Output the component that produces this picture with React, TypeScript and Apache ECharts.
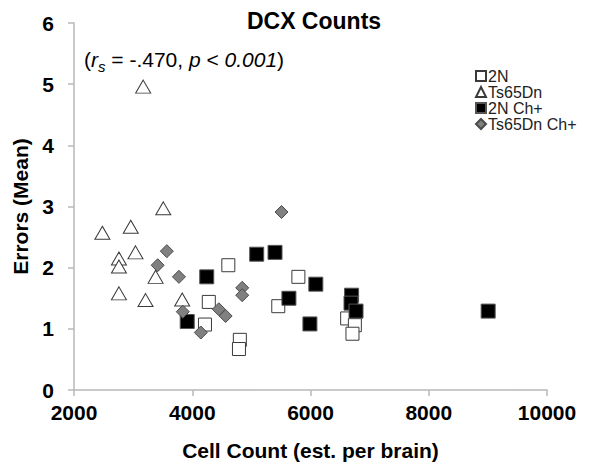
import React, { useEffect, useRef } from "react";
import * as echarts from "echarts";

const FONT = "'Liberation Sans', Arial, sans-serif";

const xTicks = [2000, 4000, 6000, 8000, 10000];
const yTicks = [0, 1, 2, 3, 4, 5, 6];

const seriesNames = ["2N", "Ts65Dn", "2N Ch+", "Ts65Dn Ch+"];

// [cell count, errors]
const data2N: number[][] = [
  [4610, 2.04], [4280, 1.44], [4215, 1.07], [4805, 0.82], [4790, 0.67],
  [5795, 1.85], [5455, 1.37], [6620, 1.17], [6750, 1.06], [6710, 0.92],
];
const dataTs65Dn: number[][] = [
  [2480, 2.57], [2760, 2.15], [2760, 2.02], [2760, 1.58], [2960, 2.67],
  [3040, 2.25], [3170, 4.96], [3210, 1.47], [3380, 1.85], [3510, 2.97], [3830, 1.48],
];
const data2NCh: number[][] = [
  [4245, 1.85], [3915, 1.12], [5090, 2.22], [5400, 2.25], [6090, 1.73],
  [5635, 1.5], [5990, 1.08], [6695, 1.55], [6685, 1.42], [6770, 1.29], [9005, 1.29],
];
const dataTs65DnCh: number[][] = [
  [3570, 2.27], [3415, 2.04], [3775, 1.85], [3840, 1.28], [4145, 0.94],
  [4450, 1.32], [4565, 1.21], [4845, 1.67], [4845, 1.55], [5510, 2.91],
];

export default function App() {
  const ref = useRef<HTMLDivElement>(null);
  useEffect(() => {
    if (!ref.current) return;
    const chart = echarts.init(ref.current, undefined, { renderer: "svg" });
    chart.setOption({
      animation: false,
      backgroundColor: "#fff",
      title: {
        text: "DCX Counts",
        left: 309,
        top: 4,
        textAlign: "center",
        textStyle: { fontFamily: FONT, fontSize: 23, fontWeight: "bold", color: "#000" },
      },
      legend: {
        orient: "vertical",
        left: 475,
        top: 68,
        padding: 0,
        itemGap: 0,
        itemWidth: 10,
        itemHeight: 10,
        data: seriesNames,
        textStyle: { fontFamily: FONT, fontSize: 16, lineHeight: 16, color: "#222", padding: [0, 0, 0, -3] },
      },
      graphic: [
        {
          type: "text",
          left: 84,
          top: 49,
          style: {
            text: "{n|(}{i|r}{s|s}{n| = -.470, }{i|p}{n| < }{i|0.001}{n|)}",
            rich: {
              n: { fontFamily: FONT, fontSize: 21, color: "#000", lineHeight: 28, verticalAlign: "middle" },
              i: { fontFamily: FONT, fontSize: 21, fontStyle: "italic", color: "#000", lineHeight: 28, verticalAlign: "middle" },
              s: { fontFamily: FONT, fontSize: 15, fontStyle: "italic", color: "#000", verticalAlign: "bottom" },
            },
          },
        },
      ],
      grid: { left: 74, right: 43, top: 23, bottom: 81, containLabel: false },
      xAxis: {
        type: "value",
        min: xTicks[0],
        max: xTicks[xTicks.length - 1],
        interval: 2000,
        name: "Cell Count (est. per brain)",
        nameLocation: "middle",
        nameGap: 50,
        nameTextStyle: { fontFamily: FONT, fontSize: 21, fontWeight: "bold", color: "#000" },
        axisLine: { show: true, lineStyle: { color: "#b8b8b8", width: 1.5 } },
        axisTick: { show: true, length: 6, lineStyle: { color: "#b8b8b8", width: 1.5 } },
        axisLabel: {
          fontFamily: FONT, fontSize: 21, fontWeight: "bold", color: "#000", margin: 12,
          formatter: (v: number) => String(v),
        },
        splitLine: { show: false },
      },
      yAxis: {
        type: "value",
        min: yTicks[0],
        max: yTicks[yTicks.length - 1],
        interval: 1,
        name: "Errors (Mean)",
        nameLocation: "middle",
        nameGap: 42,
        nameTextStyle: { fontFamily: FONT, fontSize: 21, fontWeight: "bold", color: "#000" },
        axisLine: { show: true, lineStyle: { color: "#b8b8b8", width: 1.5 } },
        axisTick: { show: true, length: 6, lineStyle: { color: "#b8b8b8", width: 1.5 } },
        axisLabel: { fontFamily: FONT, fontSize: 21, fontWeight: "bold", color: "#000", margin: 20 },
        splitLine: { show: false },
      },
      series: [
        {
          name: seriesNames[0],
          type: "scatter",
          symbol: "rect",
          symbolSize: 13,
          data: data2N,
          itemStyle: { color: "#fff", borderColor: "#3a3a3a", borderWidth: 1, opacity: 1 },
        },
        {
          name: seriesNames[1],
          type: "scatter",
          symbol: "triangle",
          symbolSize: [15, 13],
          data: dataTs65Dn,
          itemStyle: { color: "#fff", borderColor: "#3a3a3a", borderWidth: 1, opacity: 1 },
        },
        {
          name: seriesNames[2],
          type: "scatter",
          symbol: "rect",
          symbolSize: 14,
          data: data2NCh,
          itemStyle: { color: "#000", borderColor: "#555", borderWidth: 1, opacity: 1 },
        },
        {
          name: seriesNames[3],
          type: "scatter",
          symbol: "diamond",
          symbolSize: 13,
          data: dataTs65DnCh,
          itemStyle: { color: "#808080", borderColor: "#4a4a4a", borderWidth: 1, opacity: 1 },
        },
      ],
    });
    return () => chart.dispose();
  }, []);
  return (
    <div
      ref={ref}
      style={{ position: "fixed", left: 0, top: 0, width: 590, height: 471 }}
    />
  );
}
